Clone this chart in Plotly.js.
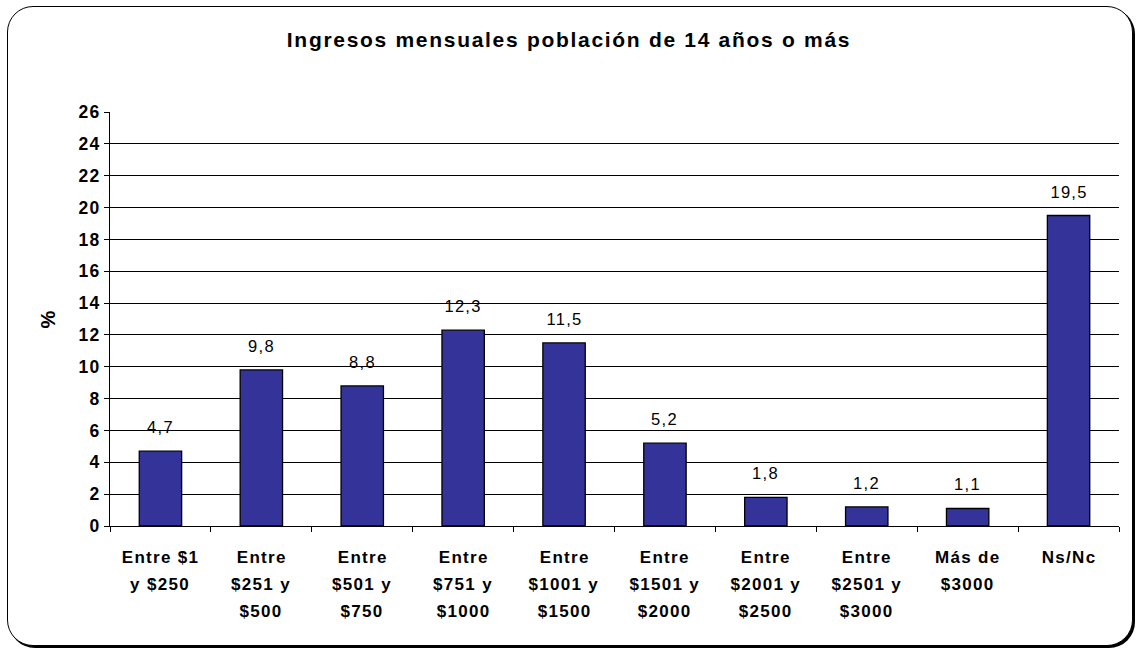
<!DOCTYPE html>
<html>
<head>
<meta charset="utf-8">
<script src="https://cdn.plot.ly/plotly-3.0.1.min.js"></script>
<style>
  html, body { margin: 0; padding: 0; background: #ffffff; }
  #frame { position: absolute; left: 7px; top: 6px; width: 1124px; height: 638px;
           border: 1.3px solid #000; border-radius: 26px; box-shadow: 2px 2px 0 #000; background: #fff; }
  #chart { position: absolute; left: 0; top: 0; width: 1138px; height: 651px; }
  #chart text { letter-spacing: 1.3px; }
  #chart .gtitle { letter-spacing: 1.7px; }
</style>
</head>
<body>
<div id="frame"></div>
<div id="chart"></div>
<script>
const categories = ["c1","c2","c3","c4","c5","c6","c7","c8","c9","c10"];
const categoryLabels = [
  ["Entre $1", "y $250"],
  ["Entre", "$251 y", "$500"],
  ["Entre", "$501 y", "$750"],
  ["Entre", "$751 y", "$1000"],
  ["Entre", "$1001 y", "$1500"],
  ["Entre", "$1501 y", "$2000"],
  ["Entre", "$2001 y", "$2500"],
  ["Entre", "$2501 y", "$3000"],
  ["Más de", "$3000"],
  ["Ns/Nc"]
];
const values = [4.7, 9.8, 8.8, 12.3, 11.5, 5.2, 1.8, 1.2, 1.1, 19.5];
const valueLabels = ["4,7","9,8","8,8","12,3","11,5","5,2","1,8","1,2","1,1","19,5"];
const yTicks = [0,2,4,6,8,10,12,14,16,18,20,22,24,26];

const FONT = "Liberation Sans, Arial, sans-serif";

const annotations = [];
categories.forEach((c, i) => {
  annotations.push({
    x: c, y: values[i], xref: "x", yref: "y",
    text: valueLabels[i], showarrow: false,
    yanchor: "middle", yshift: 24,
    font: {family: FONT, size: 16.5, color: "#000"}
  });
  categoryLabels[i].forEach((line, j) => {
    annotations.push({
      x: c, y: 0, xref: "x", yref: "paper",
      text: "<b>" + line + "</b>", showarrow: false,
      yanchor: "middle", yshift: -31 - 27 * j,
      font: {family: FONT, size: 17, color: "#000"}
    });
  });
});

const trace = {
  type: "bar",
  x: categories,
  y: values,
  marker: {color: "#333399", line: {color: "#000", width: 1.3}},
  hoverinfo: "skip"
};

const layout = {
  width: 1138, height: 651,
  paper_bgcolor: "rgba(0,0,0,0)",
  plot_bgcolor: "#ffffff",
  margin: {l: 110, r: 19, t: 112, b: 125},
  showlegend: false,
  bargap: 0.58,
  title: {
    text: "<b>Ingresos mensuales población de 14 años o más</b>",
    font: {family: FONT, size: 21, color: "#000"},
    x: 0.5, xanchor: "center", y: 1 - 40/651, yanchor: "middle", yref: "container"
  },
  xaxis: {
    type: "category",
    showticklabels: false,
    tickson: "boundaries",
    ticks: "outside", ticklen: 5, tickcolor: "#000", tickwidth: 1,
    showline: true, linecolor: "#000", linewidth: 1,
    showgrid: false, zeroline: false,
    mirror: false
  },
  yaxis: {
    range: [0, 26],
    tickvals: yTicks,
    ticktext: yTicks.map(String),
    ticks: "outside", ticklen: 5, tickcolor: "#000", tickwidth: 1,
    tickfont: {family: FONT, size: 17.5, color: "#000", weight: "bold"},
    showline: true, linecolor: "#000", linewidth: 1,
    showgrid: true, gridcolor: "#000", gridwidth: 1,
    zeroline: false,
    title: {text: "<b>%</b>", font: {family: FONT, size: 20, color: "#000"}, standoff: 20}
  },
  annotations: annotations
};

Plotly.newPlot("chart", [trace], layout, {displayModeBar: false, staticPlot: true});
</script>
</body>
</html>
